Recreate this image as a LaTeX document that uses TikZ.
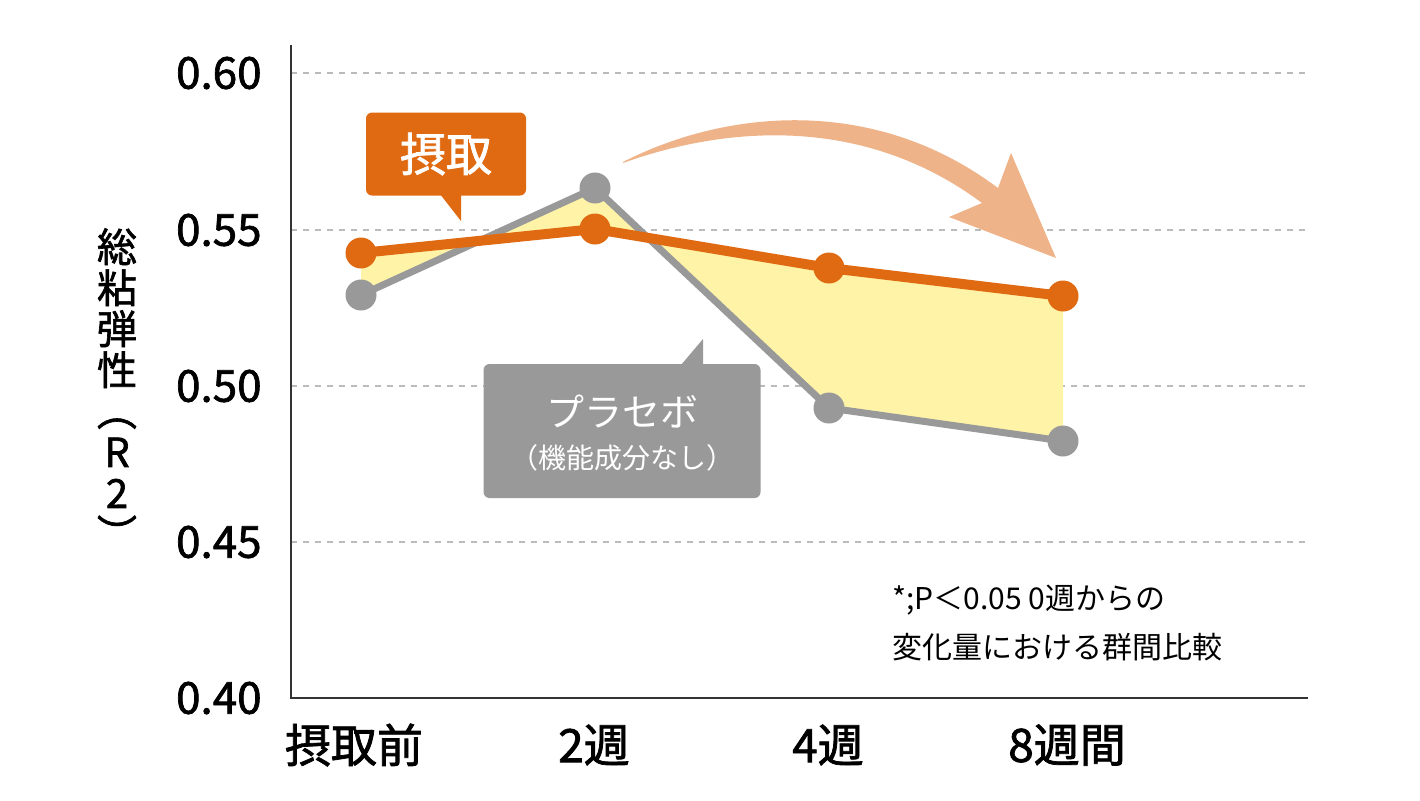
\documentclass[tikz,border=0pt]{standalone}
\usepackage{fontspec}
\setmainfont{Noto Sans CJK JP}
\newfontfamily\medfont{Noto Sans CJK JP}[FakeBold=1.6]
\definecolor{orng}{RGB}{224,106,18}
\definecolor{gry}{RGB}{153,153,153}
\definecolor{ylw}{RGB}{255,243,168}
\definecolor{salmon}{RGB}{239,179,137}
\definecolor{gridc}{RGB}{187,187,187}
\definecolor{axisc}{RGB}{51,51,51}
\newcommand{\vparen}[1]{\rotatebox[origin=c]{-90}{#1}}
\tikzset{
  grid line/.style={gridc, line width=1pt, dash pattern=on 3pt off 3pt},
  ticklabel/.style={anchor=east, inner sep=0pt, font=\fontsize{22}{22}\selectfont\medfont},
  xlabel/.style={inner sep=0pt, font=\fontsize{23}{23}\selectfont\medfont},
  callout/.style={rounded corners=3pt, inner sep=0pt},
  notetext/.style={anchor=west, inner sep=0pt, font=\fontsize{15}{15}\selectfont}
}

\begin{document}
\begin{tikzpicture}[x=0.5pt,y=0.5pt,yscale=-1]
\useasboundingbox (0,0) rectangle (1420,800);
% grid and axes
\foreach \y in {73,230,386,542} \draw[grid line] (291,\y) -- (1308,\y);
\draw[axisc, line width=1pt] (291,45) -- (291,698) -- (1308,698);
\foreach \y/\v in {73/0.60,230/0.55,386/0.50,542/0.45,698/0.40}
  \node[ticklabel] (tick\v) at (262,\y) {\v};
\node[font=\fontsize{20}{20.5}\selectfont\medfont, align=center, inner sep=0pt] (ylab) at (117,391) {総\\粘\\弾\\性\\\vparen{（}\\R\\2\\\vparen{）}};
\foreach \x/\t [count=\i] in {354/摂取前,594/2週,828/4週,1067/8週間}
  \node[xlabel] (xlab\i) at (\x,745) {\t};
% data
\foreach \i/\x/\a/\b in {1/361/253/295, 2/595/229/188, 3/829/268/408, 4/1063/296/441} {
  \coordinate (o\i) at (\x,\a);
  \coordinate (g\i) at (\x,\b);
}
\fill[ylw] (o1) -- (o2) -- (o3) -- (o4) -- (g4) -- (g3) -- (g2) -- (g1) -- cycle;
\draw[gry, line width=3.5pt, line join=round] (g1) -- (g2) -- (g3) -- (g4);
\foreach \i in {1,...,4} \fill[gry] (g\i) circle[radius=15.5];
\draw[orng, line width=5pt, line join=round] (o1) -- (o2) -- (o3) -- (o4);
\foreach \i in {1,...,4} \fill[orng] (o\i) circle[radius=15.5];
% big arrow
\fill[salmon] (623,162) .. controls (720,112) and (870,92) .. (998,188) -- (1011,153) -- (1056,258) -- (949,217) -- (982,203) .. controls (860,112) and (720,128) .. (623,163) -- cycle;
% callouts
\node[callout, fill=orng, minimum width=80pt, minimum height=41.5pt, text=white, font=\fontsize{23}{23}\selectfont\medfont] (take) at (446,154) {摂取};
\fill[orng] (440,194) -- (461,221) -- (461,194) -- cycle;
\node[callout, fill=gry, minimum width=138.5pt, minimum height=67pt] (plac) at (622,431) {};
\fill[gry] (681,365) -- (703,339) -- (703,365) -- cycle;
\node[text=white, inner sep=0pt, font=\fontsize{19}{19}\selectfont] (plac1) at (622,412) {プラセボ};
\node[text=white, inner sep=0pt, font=\fontsize{14}{14}\selectfont] (plac2) at (622,458) {（機能成分なし）};
% note
\node[notetext] (note1) at (892,600) {*;P＜0.05 0週からの};
\node[notetext] (note2) at (892,647) {変化量における群間比較};
\end{tikzpicture}
\end{document}
